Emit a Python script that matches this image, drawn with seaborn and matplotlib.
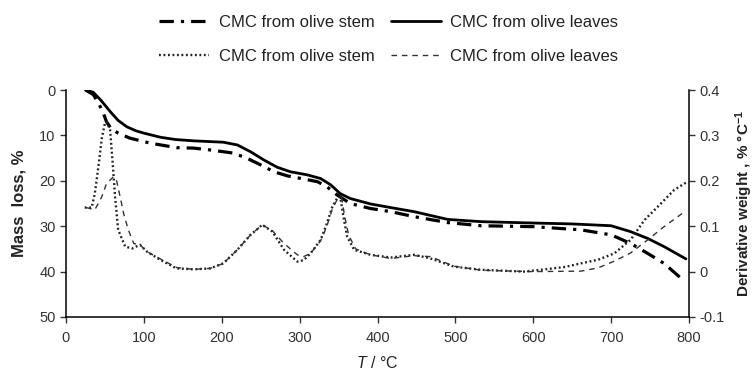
import matplotlib
matplotlib.use("Agg")
import matplotlib.pyplot as plt
import seaborn as sns
import pandas as pd

# ---- data ----
tg_leaves_T = [25, 35, 45, 57, 67, 78, 90, 100, 121, 140, 164, 202, 220, 237, 254, 271, 288, 310, 327, 340,
               352, 365, 391, 417, 447, 490, 533, 600, 650, 700, 725, 747, 768, 796]
tg_leaves_L = [0, 0.5, 2.3, 4.8, 6.7, 8.1, 9.0, 9.5, 10.4, 10.9, 11.2, 11.5, 12.1, 13.6, 15.4, 17.0, 18.0, 18.7, 19.5, 20.9,
               22.8, 23.9, 25.1, 25.9, 26.8, 28.5, 29.0, 29.3, 29.5, 29.9, 31.2, 32.7, 34.5, 37.2]

tg_stem_T = [25, 35, 42, 48, 52, 58, 67, 82, 108, 142, 164, 185, 215, 232, 250, 267, 284, 305, 323, 335,
             348, 365, 391, 417, 447, 490, 533, 600, 661, 700, 725, 747, 768, 792]
tg_stem_L = [0, 1.0, 3.0, 5.1, 7.0, 8.5, 9.5, 10.6, 11.7, 12.7, 12.8, 13.2, 13.9, 15.0, 16.5, 18.0, 18.9, 19.6, 20.2, 21.3,
             23.1, 25.0, 26.1, 26.8, 27.9, 29.2, 29.9, 30.1, 30.8, 31.9, 33.8, 36.0, 38.2, 41.8]

dtg_stem_T = [24, 33, 37, 41.6, 46, 50, 52.5, 56.6, 60, 63, 67, 76, 85, 95, 104, 121, 142, 164, 185, 202,
              220, 237, 252, 265, 280, 297, 305, 314, 327, 335, 342, 348, 352, 357, 361, 370, 391, 417, 447, 468,
              498, 533, 588, 610, 640, 661, 683, 704, 725, 743, 764, 781, 798]
dtg_stem_R = [0.141, 0.141, 0.172, 0.231, 0.294, 0.327, 0.330, 0.312, 0.238, 0.165, 0.092, 0.055, 0.051, 0.059, 0.044,
              0.026, 0.007, 0.005, 0.007, 0.018, 0.048, 0.081, 0.103, 0.088, 0.048, 0.022, 0.025, 0.040, 0.070, 0.106,
              0.143, 0.161, 0.165, 0.114, 0.077, 0.048, 0.037, 0.031, 0.037, 0.029, 0.011, 0.004, 0.000, 0.004, 0.010,
              0.018, 0.026, 0.040, 0.070, 0.114, 0.150, 0.180, 0.198]

dtg_leaves_T = [26, 37, 46, 52, 57, 61, 65, 69.5, 74, 80, 87, 95, 104, 121, 142, 164, 185, 202, 220, 237,
                252, 265, 280, 297, 305, 314, 327, 335, 342, 348, 354, 358, 363, 372, 391, 417, 447, 468, 498, 533,
                597, 661, 683, 704, 725, 747, 768, 796]
dtg_leaves_R = [0.141, 0.136, 0.165, 0.194, 0.202, 0.209, 0.200, 0.165, 0.128, 0.092, 0.062, 0.059, 0.044, 0.028,
                0.009, 0.005, 0.007, 0.018, 0.048, 0.081, 0.103, 0.090, 0.062, 0.037, 0.033, 0.040, 0.068, 0.100,
                0.138, 0.158, 0.163, 0.120, 0.080, 0.050, 0.037, 0.029, 0.035, 0.033, 0.012, 0.003, 0.000, 0.001,
                0.008, 0.023, 0.041, 0.070, 0.099, 0.134]

labels = ["CMC from olive stem", "CMC from olive leaves", "CMC from olive stem", "CMC from olive leaves"]
x_ticks = [0, 100, 200, 300, 400, 500, 600, 700, 800]
left_ticks = [0, 10, 20, 30, 40, 50]
right_ticks = [-0.1, 0, 0.1, 0.2, 0.3, 0.4]
right_tick_labels = ["-0.1", "0", "0.1", "0.2", "0.3", "0.4"]

# ---- style ----
sns.set_style("ticks")
plt.rcParams["font.family"] = ["Liberation Sans", "DejaVu Sans"]
plt.rcParams["mathtext.fontset"] = "custom"
plt.rcParams["mathtext.it"] = "Liberation Sans:italic"
plt.rcParams["mathtext.rm"] = "Liberation Sans"
plt.rcParams["mathtext.bf"] = "Liberation Sans:bold"
plt.rcParams["mathtext.default"] = "regular"

fig = plt.figure(figsize=(7.55, 3.74), dpi=100)
ax = fig.add_axes([66 / 755, 1 - 317 / 374, (689 - 66) / 755, (317 - 90) / 374])
ax2 = ax.twinx()

df_tl = pd.DataFrame({"T": tg_leaves_T, "v": tg_leaves_L})
df_ts = pd.DataFrame({"T": tg_stem_T, "v": tg_stem_L})
df_ds = pd.DataFrame({"T": dtg_stem_T, "v": dtg_stem_R})
df_dl = pd.DataFrame({"T": dtg_leaves_T, "v": dtg_leaves_R})

sns.lineplot(data=df_ts, x="T", y="v", ax=ax, color="black", linewidth=2.3,
             linestyle=(0, (4.5, 2.2, 1, 2.2)), label=labels[0], legend=False)
sns.lineplot(data=df_tl, x="T", y="v", ax=ax, color="black", linewidth=2.0,
             linestyle="-", label=labels[1], legend=False)
sns.lineplot(data=df_ds, x="T", y="v", ax=ax2, color="#222222", linewidth=1.7,
             linestyle=(0, (0.8, 1.1)), label=labels[2], legend=False)
sns.lineplot(data=df_dl, x="T", y="v", ax=ax2, color="#333333", linewidth=1.0,
             linestyle=(0, (4, 3.5)), label=labels[3], legend=False)

ax.set_xlim(0, 800)
ax.set_ylim(50, 0)
ax2.set_ylim(-0.1, 0.4)
ax.set_xticks(x_ticks)
ax.set_yticks(left_ticks)
ax2.set_yticks(right_ticks)
ax2.set_yticklabels(right_tick_labels)

for a in (ax, ax2):
    a.tick_params(labelsize=10.5, colors="#333333", length=4, width=1, direction="out")
    for s in a.spines.values():
        s.set_color("black")
        s.set_linewidth(1.1)
    a.spines["top"].set_visible(False)
ax.spines["right"].set_visible(False)
ax2.spines["left"].set_visible(False)
ax2.spines["bottom"].set_visible(False)
ax2.spines["right"].set_visible(True)
ax.tick_params(axis="x", pad=6)

ax.set_xlabel(r"$\mathit{T}$ / °C", fontsize=11.5, color="#222222", labelpad=7)
ax.set_ylabel("Mass  loss, %", fontsize=12, fontweight="bold", color="#222222", labelpad=9)
ax2.set_ylabel("Derivative weight , % °C$^{-1}$", fontsize=11, fontweight="bold", color="#222222", labelpad=6)

h1, l1 = ax.get_legend_handles_labels()
h2, l2 = ax2.get_legend_handles_labels()
handles = [h1[0], h2[0], h1[1], h2[1]]
labs = [l1[0], l2[0], l1[1], l2[1]]
fig.legend(handles, labs, ncol=2, loc="upper center", bbox_to_anchor=(0.515, 1.0),
           frameon=False, fontsize=12, handlelength=3.0, handletextpad=0.55,
           columnspacing=1.0, labelspacing=1.15, labelcolor="#222222")

fig.savefig("out.png", dpi=100)
